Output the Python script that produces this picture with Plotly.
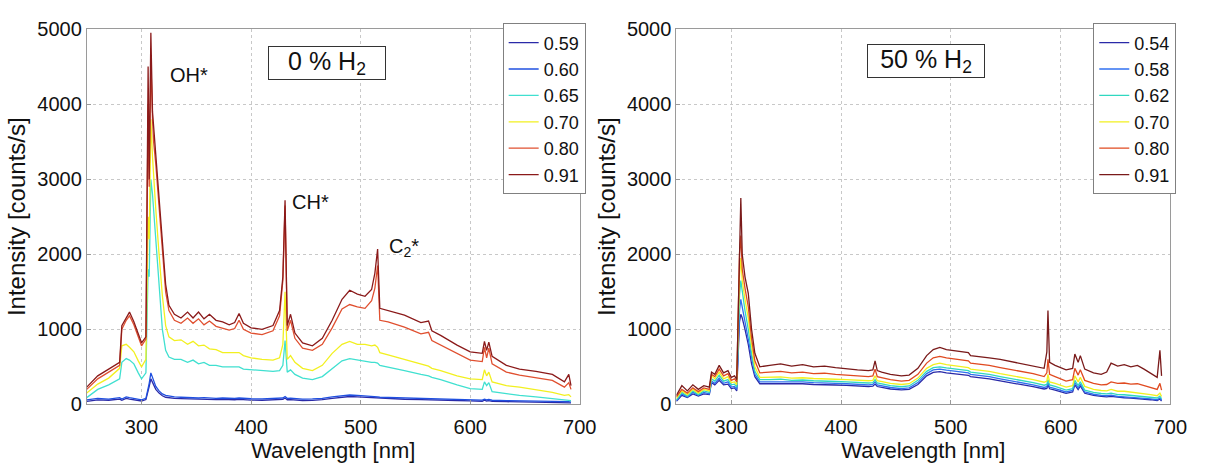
import plotly.graph_objects as go

# ---------------- data: 0 % H2 panel ----------------
wl_0 = [250, 260, 270, 280, 282, 286, 289, 293, 297, 300, 304, 306, 307, 308.5, 310, 311, 313, 316, 319, 322,
        325, 330, 336, 342, 347, 352, 357, 362, 368, 374, 380, 385, 389, 393, 400, 410, 420, 426, 429, 431,
        433, 436, 440, 447, 456, 465, 474, 483, 490, 497, 504, 510, 513, 515.5, 517.5, 525, 540, 555, 562, 565,
        573, 588, 600, 611, 613, 615, 617, 620, 633, 645, 660, 675, 686, 690, 692]

i0_059 = [40, 60, 55, 70, 55, 80, 70, 60, 55, 45, 65, 170, 240, 340, 290, 250, 200, 150, 115, 95,
          88, 80, 76, 72, 76, 68, 72, 66, 64, 66, 62, 62, 66, 60, 58, 55, 57, 60, 66, 85,
          62, 63, 57, 52, 54, 62, 80, 95, 105, 100, 95, 86, 82, 82, 78, 75, 68, 63, 62, 58,
          56, 52, 46, 42, 55, 45, 50, 40, 36, 34, 32, 28, 24, 26, 20]
i0_060 = [60, 80, 70, 90, 70, 100, 90, 80, 70, 60, 80, 200, 280, 420, 350, 300, 240, 180, 140, 120,
          110, 100, 95, 90, 95, 85, 90, 85, 80, 85, 80, 80, 85, 78, 75, 72, 75, 78, 85, 105,
          80, 82, 75, 70, 72, 80, 100, 115, 125, 120, 115, 105, 100, 100, 95, 92, 85, 80, 78, 75,
          72, 68, 62, 58, 70, 60, 65, 55, 50, 48, 45, 40, 35, 38, 30]
i0_065 = [90, 200, 260, 340, 560, 610, 590, 540, 420, 340, 420, 1800, 1700, 3000, 2800, 2600, 2300, 1600, 1000, 720,
          630, 600, 600, 560, 590, 540, 560, 520, 520, 500, 500, 490, 500, 470, 460, 450, 440, 450, 520, 850,
          430, 460, 400, 350, 330, 370, 480, 580, 610, 590, 570, 560, 560, 550, 520, 500, 450, 400, 380, 360,
          330, 260, 210, 200, 300, 250, 290, 170, 140, 120, 100, 80, 60, 60, 50]
i0_070 = [150, 270, 350, 480, 780, 800, 760, 700, 580, 500, 600, 2500, 2200, 3800, 3300, 3000, 2600, 2000, 1450, 1050,
          900, 850, 860, 800, 840, 780, 790, 740, 730, 690, 690, 680, 690, 650, 620, 600, 590, 620, 800, 1500,
          600, 650, 560, 480, 450, 520, 680, 800, 840, 800, 800, 780, 790, 760, 690, 660, 600, 530, 510, 480,
          450, 380, 340, 330, 460, 380, 430, 300, 250, 230, 200, 160, 120, 130, 100]
i0_080 = [200, 340, 430, 520, 1000, 1120, 1180, 1060, 900, 780, 870, 4000, 2900, 4600, 3800, 3500, 3200, 2600, 2000, 1500,
          1250, 1120, 1080, 1150, 1080, 1140, 1060, 1110, 1040, 1020, 990, 1010, 1120, 1000, 950, 930, 980, 1180, 1650, 2650,
          980, 1120, 880, 750, 720, 800, 1020, 1270, 1330, 1300, 1280, 1380, 1550, 1850, 1120, 1100, 1030, 940, 960, 850,
          790, 670, 590, 570, 760, 620, 750, 540, 430, 390, 360, 320, 230, 290, 200]
i0_091 = [230, 380, 470, 560, 1050, 1150, 1230, 1100, 950, 820, 900, 4500, 3000, 4950, 3900, 3700, 3300, 2700, 2100, 1600,
          1320, 1200, 1150, 1230, 1150, 1230, 1140, 1200, 1120, 1100, 1060, 1090, 1210, 1080, 1020, 1000, 1050, 1250, 1700, 2720,
          1050, 1200, 950, 820, 780, 880, 1120, 1400, 1520, 1470, 1440, 1530, 1750, 2070, 1280, 1250, 1190, 1090, 1110, 980,
          920, 790, 700, 680, 840, 720, 830, 640, 520, 470, 440, 400, 300, 400, 250]

phi_0 = ["0.59", "0.60", "0.65", "0.70", "0.80", "0.91"]
series_0 = [i0_059, i0_060, i0_065, i0_070, i0_080, i0_091]
colors_0 = ["#2a2aa8", "#2050e0", "#40e0d0", "#f2f020", "#e05030", "#8b1a1a"]

# ---------------- data: 50 % H2 panel ----------------
wl_50 = [250, 255, 260, 265, 270, 275, 280, 282, 285, 289, 293, 297, 300, 303, 305, 306.5, 307.5, 308.7, 310, 312.5,
         315.5, 318.5, 321.5, 326, 335, 345, 355, 365, 375, 385, 395, 405, 415, 425, 429, 431, 433, 437, 445, 455,
         462, 470, 478, 484, 490, 496, 502, 510, 516, 518, 525, 535, 545, 555, 565, 575, 585, 587.5, 588.5, 590,
         595, 605, 611, 613, 616, 618, 622, 630, 637, 642, 646, 652, 658, 664, 670, 676, 682, 688, 690.5, 692]

i50_054 = [40, 120, 90, 140, 110, 140, 130, 290, 260, 320, 260, 270, 210, 220, 180, 750, 1100, 1200, 1150, 1000,
           800, 540, 370, 275, 275, 280, 270, 275, 265, 265, 258, 252, 243, 238, 242, 270, 238, 225, 205, 192,
           200, 265, 380, 425, 435, 420, 412, 398, 388, 370, 360, 340, 312, 288, 264, 236, 205, 212, 260, 208,
           190, 148, 165, 260, 198, 245, 148, 120, 106, 100, 106, 92, 88, 82, 78, 70, 62, 52, 72, 45]
i50_058 = [50, 140, 100, 160, 120, 160, 140, 310, 280, 350, 280, 300, 230, 240, 200, 850, 1250, 1400, 1300, 1100,
           880, 600, 400, 300, 300, 305, 295, 300, 290, 290, 280, 275, 265, 260, 265, 300, 260, 245, 225, 210,
           220, 290, 410, 460, 470, 455, 445, 430, 420, 400, 390, 370, 340, 315, 290, 260, 225, 235, 290, 230,
           210, 165, 185, 290, 220, 270, 165, 135, 120, 115, 122, 105, 100, 95, 90, 80, 72, 62, 85, 55]
i50_062 = [60, 160, 110, 180, 130, 180, 160, 340, 310, 390, 310, 330, 260, 270, 230, 950, 1450, 1650, 1500, 1250,
           1000, 680, 440, 330, 330, 335, 320, 325, 315, 315, 305, 300, 290, 285, 290, 330, 285, 270, 250, 235,
           245, 320, 440, 490, 500, 485, 475, 460, 450, 430, 420, 400, 370, 345, 320, 290, 255, 265, 330, 260,
           240, 190, 210, 320, 250, 300, 190, 160, 145, 140, 150, 130, 128, 120, 115, 105, 95, 85, 110, 75]
i50_070 = [80, 180, 130, 200, 150, 200, 180, 380, 340, 430, 340, 370, 290, 300, 260, 1100, 1700, 1950, 1650, 1400,
           1150, 780, 500, 360, 360, 365, 350, 355, 345, 345, 335, 330, 320, 315, 320, 380, 315, 300, 280, 265,
           275, 350, 480, 530, 550, 530, 520, 500, 490, 470, 460, 440, 410, 385, 360, 330, 295, 310, 400, 300,
           280, 230, 250, 380, 300, 360, 240, 200, 185, 180, 200, 175, 175, 165, 160, 145, 130, 115, 150, 105]
i50_080 = [100, 200, 150, 220, 170, 220, 200, 400, 370, 470, 380, 410, 320, 340, 300, 1300, 2000, 2250, 1800, 1550,
           1300, 880, 580, 420, 430, 440, 420, 430, 410, 415, 400, 390, 380, 370, 380, 470, 370, 355, 330, 310,
           320, 400, 550, 620, 640, 620, 610, 590, 580, 550, 540, 520, 490, 465, 440, 410, 370, 420, 600, 400,
           370, 310, 330, 480, 390, 460, 320, 280, 260, 265, 300, 280, 285, 270, 275, 250, 230, 200, 280, 190]
i50_091 = [120, 250, 180, 260, 200, 250, 230, 430, 400, 520, 420, 450, 360, 380, 330, 1500, 2300, 2750, 2000, 1700,
           1480, 1000, 680, 500, 520, 540, 510, 530, 500, 510, 490, 470, 460, 450, 460, 580, 450, 430, 400, 380,
           390, 480, 650, 730, 760, 730, 720, 700, 690, 650, 640, 620, 600, 570, 550, 520, 480, 700, 1250, 560,
           520, 460, 480, 670, 560, 650, 470, 420, 400, 430, 550, 510, 530, 500, 520, 470, 420, 360, 720, 380]

phi_50 = ["0.54", "0.58", "0.62", "0.70", "0.80", "0.91"]
series_50 = [i50_054, i50_058, i50_062, i50_070, i50_080, i50_091]
colors_50 = ["#2a2aa8", "#3070f0", "#30d8c0", "#f2f020", "#e04a20", "#7a1a1a"]

x_ticks = [300, 400, 500, 600, 700]
y_ticks = [0, 1000, 2000, 3000, 4000, 5000]

FONT = "Arial, Liberation Sans, sans-serif"

fig = go.Figure()
for name, ys, c in zip(phi_0, series_0, colors_0):
    fig.add_trace(go.Scatter(x=wl_0, y=ys, mode="lines", name=name, line=dict(color=c, width=1.3),
                             xaxis="x", yaxis="y", legend="legend"))
for name, ys, c in zip(phi_50, series_50, colors_50):
    fig.add_trace(go.Scatter(x=wl_50, y=ys, mode="lines", name=name, line=dict(color=c, width=1.3),
                             xaxis="x2", yaxis="y2", legend="legend2"))

W, H = 1212, 463
left_dom = [88 / W, 588 / W]
right_dom = [686 / W, 1187 / W]
y_dom = [(H - 413) / H, (H - 19) / H]

axis_common = dict(
    showline=True, linecolor="#9a9a9a", linewidth=1, mirror=True,
    showgrid=True, gridcolor="#c8c8c8", griddash="dot", gridwidth=1,
    ticks="inside", ticklen=4, tickcolor="#9a9a9a",
    tickfont=dict(family=FONT, size=20, color="#111"),
    zeroline=False,
)
xtitle = dict(text="Wavelength [nm]", font=dict(size=22), standoff=0)
ytitle = dict(text="Intensity [counts/s]", font=dict(size=24), standoff=4)

legend_common = dict(xanchor="right", yanchor="top", bordercolor="#808080", borderwidth=1,
                     bgcolor="white", font=dict(family=FONT, size=18, color="#111"),
                     tracegroupgap=0, entrywidth=88)

fig.update_layout(
    width=W, height=H,
    margin=dict(l=0, r=0, t=0, b=0),
    paper_bgcolor="white", plot_bgcolor="white",
    font=dict(family=FONT, color="#111"),
    xaxis=dict(domain=left_dom, range=[250, 700], tickvals=x_ticks, anchor="y", title=xtitle,
               ticklabelstandoff=5, **axis_common),
    yaxis=dict(domain=y_dom, range=[0, 5000], tickvals=y_ticks, anchor="x", title=ytitle, **axis_common),
    xaxis2=dict(domain=right_dom, range=[250, 700], tickvals=x_ticks, anchor="y2", title=xtitle,
                ticklabelstandoff=5, **axis_common),
    yaxis2=dict(domain=y_dom, range=[0, 5000], tickvals=y_ticks, anchor="x2", title=ytitle, **axis_common),
    legend=dict(x=594 / W, y=(H - 13) / H, **legend_common),
    legend2=dict(x=1193 / W, y=(H - 13) / H, **legend_common),
    showlegend=True,
)

# boxed titles
fig.add_annotation(x=332 / W, y=(H - 55) / H, xref="paper", yref="paper",
                   xanchor="center", yanchor="middle",
                   text="0 % H<sub>2</sub>", showarrow=False, width=112, height=28,
                   font=dict(family=FONT, size=25, color="#111"),
                   bordercolor="#333", borderwidth=1, borderpad=2, bgcolor="white")
fig.add_annotation(x=939 / W, y=(H - 53) / H, xref="paper", yref="paper",
                   xanchor="center", yanchor="middle",
                   text="50 % H<sub>2</sub>", showarrow=False, width=112, height=28,
                   font=dict(family=FONT, size=25, color="#111"),
                   bordercolor="#333", borderwidth=1, borderpad=2, bgcolor="white")

# peak labels
for txt, x, y in [("OH*", 323.7, 4390), ("CH*", 435.2, 2700), ("C<sub>2</sub>*", 524.2, 2090)]:
    fig.add_annotation(x=x, y=y, xref="x", yref="y", text=txt, showarrow=False,
                       xanchor="left", yanchor="middle",
                       font=dict(family=FONT, size=20, color="#111"))

fig.write_html("out.html")
